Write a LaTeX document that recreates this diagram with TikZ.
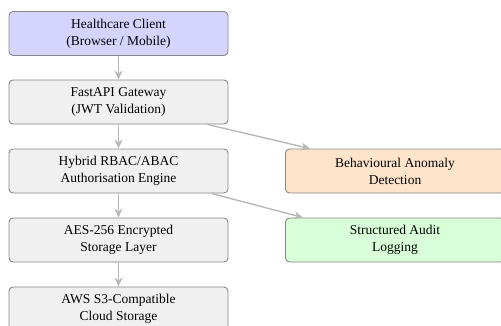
\documentclass[tikz,border=0pt]{standalone}
\usepackage{fontspec}
\setmainfont{Liberation Serif}
\usepackage{tikz}
\usetikzlibrary{arrows.meta, positioning}
\definecolor{myborder}{RGB}{135,135,135}
\definecolor{myarrow}{RGB}{185,185,185}
\definecolor{hdrblue}{RGB}{212,212,255}
\definecolor{hdrgray}{RGB}{240,240,240}
\definecolor{hdrpeach}{RGB}{255,228,204}
\definecolor{hdrgreen}{RGB}{216,255,216}
\tikzset{
  block/.style={rectangle, draw=myborder, fill=hdrgray,
    minimum width=219pt, minimum height=44pt, align=center,
    font=\fontsize{13.5}{17}\selectfont, rounded corners=4pt, line width=0.9pt},
  blueblock/.style={block, fill=hdrblue},
  peachblock/.style={block, fill=hdrpeach},
  greenblock/.style={block, fill=hdrgreen},
  arrow/.style={-{Stealth[length=9pt, width=8pt]}, line width=1.4pt, color=myarrow}
}

\begin{document}
\begin{tikzpicture}[x=1pt, y=-1pt]
  \useasboundingbox (0,0) rectangle (501,325);
  \clip (0,0) rectangle (501,325);

  % --- Main pipeline ---
  \node[blueblock] (client) at (118.5, 33.5) {Healthcare Client\\(Browser / Mobile)};
  \node[block] (gw) at (118.5, 102) {FastAPI Gateway\\(JWT Validation)};
  \node[block] (auth) at (118.5, 171) {Hybrid RBAC/ABAC\\Authorisation Engine};
  \node[block] (store) at (118.5, 240) {AES-256 Encrypted\\Storage Layer};
  \node[block] (cloud) at (118.5, 309) {AWS S3-Compatible\\Cloud Storage};

  % --- Side modules ---
  \node[peachblock] (anom) at (395, 171) {Behavioural Anomaly\\Detection};
  \node[greenblock] (audit) at (395, 240) {Structured Audit\\Logging};

  \draw[arrow] (client) -- (gw);
  \draw[arrow] (gw) -- (auth);
  \draw[arrow] (auth) -- (store);
  \draw[arrow] (store) -- (cloud);

  \draw[arrow] ([xshift=-21pt]gw.south east) -- ([xshift=25pt]anom.north west);
  \draw[arrow] ([xshift=-17pt]auth.south east) -- ([xshift=18pt]audit.north west);
\end{tikzpicture}
\end{document}
